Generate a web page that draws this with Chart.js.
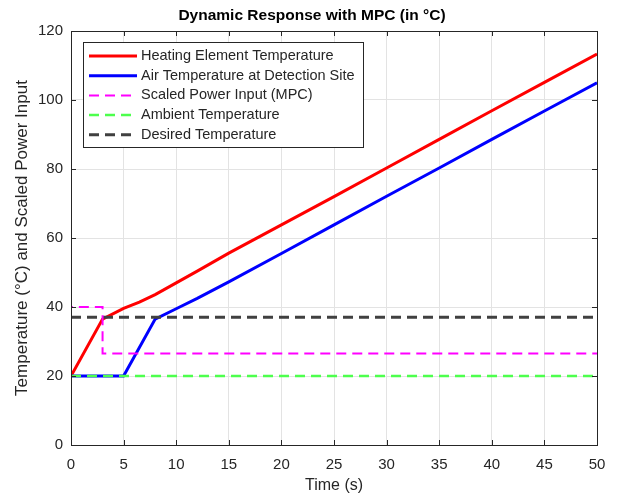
<!DOCTYPE html>
<html>
<head>
<meta charset="utf-8">
<script src="https://cdn.jsdelivr.net/npm/chart.js@4.4.1/dist/chart.umd.min.js"></script>
<style>
html,body{margin:0;padding:0;background:#fff;}
canvas{display:block;}
</style>
</head>
<body>
<canvas id="c" width="624" height="495"></canvas>
<script>
// ---- data ----
const heatT   = [0, 3, 5, 6.5, 8, 10, 12, 15, 20, 25, 30, 35, 40, 45, 50];
const heatV   = [20, 36.5, 39.6, 41.4, 43.6, 47, 50.4, 55.6, 63.8, 72, 80.3, 88.6, 96.9, 105.1, 113.3];
const airT    = [0, 5, 8, 10, 12, 15, 20, 25, 30, 35, 40, 45, 50];
const airV    = [20, 20, 36.5, 39.5, 42.5, 47.3, 55.5, 63.8, 72.1, 80.3, 88.6, 96.8, 105];
const powerT  = [0, 0, 3, 3, 50];
const powerV  = [33, 40, 40, 26.5, 26.5];
const ambientT = [0, 50];
const ambientV = [20, 20];
const desiredT = [0, 50];
const desiredV = [37, 37];
const seriesNames = ['Heating Element Temperature', 'Air Temperature at Detection Site',
  'Scaled Power Input (MPC)', 'Ambient Temperature', 'Desired Temperature'];
const xTicks = [0, 5, 10, 15, 20, 25, 30, 35, 40, 45, 50];
const yTicks = [0, 20, 40, 60, 80, 100, 120];

const pts = (t, v) => t.map((x, i) => ({x: x, y: v[i]}));
const FONT = '"Liberation Sans", Arial, Helvetica, sans-serif';
const TXT = '#262626';

const datasets = [
  {label: seriesNames[2], data: pts(powerT, powerV), borderColor: '#ff00ff', borderWidth: 2, borderDash: [10, 6]},
  {label: seriesNames[3], data: pts(ambientT, ambientV), borderColor: '#4dff4d', borderWidth: 2.5, borderDash: [10, 6]},
  {label: seriesNames[4], data: pts(desiredT, desiredV), borderColor: '#404040', borderWidth: 3, borderDash: [10, 6]},
  {label: seriesNames[1], data: pts(airT, airV), borderColor: '#0000ff', borderWidth: 3},
  {label: seriesNames[0], data: pts(heatT, heatV), borderColor: '#ff0000', borderWidth: 3},
].map(d => Object.assign(d, {showLine: true, pointRadius: 0, fill: false, tension: 0}));
const legendOrder = [4, 3, 0, 1, 2];

const decor = {
  id: 'decor',
  afterDraw(chart) {
    const ctx = chart.ctx, a = chart.chartArea;
    const xs = chart.scales.x, ys = chart.scales.y;
    ctx.save();
    // box
    ctx.strokeStyle = TXT; ctx.lineWidth = 1;
    ctx.strokeRect(Math.round(a.left) + 0.5, Math.round(a.top) + 0.5,
      Math.round(a.right - a.left), Math.round(a.bottom - a.top));
    // inward ticks
    ctx.beginPath();
    xTicks.forEach(v => {
      const px = Math.round(xs.getPixelForValue(v)) + 0.5;
      ctx.moveTo(px, a.bottom); ctx.lineTo(px, a.bottom - 5);
      ctx.moveTo(px, a.top); ctx.lineTo(px, a.top + 5);
    });
    yTicks.forEach(v => {
      const py = Math.round(ys.getPixelForValue(v)) + 0.5;
      ctx.moveTo(a.left, py); ctx.lineTo(a.left + 5, py);
      ctx.moveTo(a.right, py); ctx.lineTo(a.right - 5, py);
    });
    ctx.stroke();
    // title
    ctx.fillStyle = '#000';
    ctx.font = 'bold 15.5px ' + FONT;
    ctx.textAlign = 'center'; ctx.textBaseline = 'middle';
    ctx.fillText('Dynamic Response with MPC (in °C)', 312, 16);
    // legend
    const lx = 83, ly = 42, lw = 280, lh = 105;
    ctx.fillStyle = '#fff';
    ctx.fillRect(lx, ly, lw, lh);
    ctx.strokeStyle = TXT; ctx.lineWidth = 1;
    ctx.strokeRect(lx + 0.5, ly + 0.5, lw, lh);
    ctx.font = '14.5px ' + FONT;
    ctx.textAlign = 'left'; ctx.textBaseline = 'middle';
    legendOrder.forEach((di, i) => {
      const d = chart.data.datasets[di];
      const y = 56 + i * 19.7;
      ctx.beginPath();
      ctx.strokeStyle = d.borderColor;
      ctx.lineWidth = d.borderWidth;
      ctx.setLineDash(d.borderDash || []);
      ctx.moveTo(89, y); ctx.lineTo(137, y);
      ctx.stroke();
      ctx.setLineDash([]);
      ctx.fillStyle = TXT;
      ctx.fillText(d.label, 141, y);
    });
    ctx.restore();
  }
};

new Chart(document.getElementById('c'), {
  type: 'scatter',
  data: {datasets},
  options: {
    responsive: false,
    animation: false,
    layout: {padding: {top: 31, right: 27, left: 0, bottom: 0}},
    plugins: {legend: {display: false}, tooltip: {enabled: false}, title: {display: false}},
    scales: {
      x: {
        type: 'linear', min: 0, max: 50,
        afterFit(s) { s.height = 50; },
        afterBuildTicks(s) { s.ticks = xTicks.map(v => ({value: v})); },
        grid: {color: '#e3e3e3', drawTicks: false},
        border: {display: false},
        ticks: {color: TXT, font: {family: FONT, size: 15}, padding: 11, maxRotation: 0},
        title: {display: true, text: 'Time (s)', color: TXT, font: {family: FONT, size: 16}, padding: {top: 0, bottom: 0}}
      },
      y: {
        type: 'linear', min: 0, max: 120,
        afterFit(s) { s.width = 71; },
        afterBuildTicks(s) { s.ticks = yTicks.map(v => ({value: v})); },
        grid: {color: '#e3e3e3', drawTicks: false},
        border: {display: false},
        ticks: {color: TXT, font: {family: FONT, size: 15}, padding: 8},
        title: {display: true, text: 'Temperature (°C) and Scaled Power Input', color: TXT, font: {family: FONT, size: 17}, padding: {top: 12, bottom: 0}}
      }
    }
  },
  plugins: [decor]
});
</script>
</body>
</html>
